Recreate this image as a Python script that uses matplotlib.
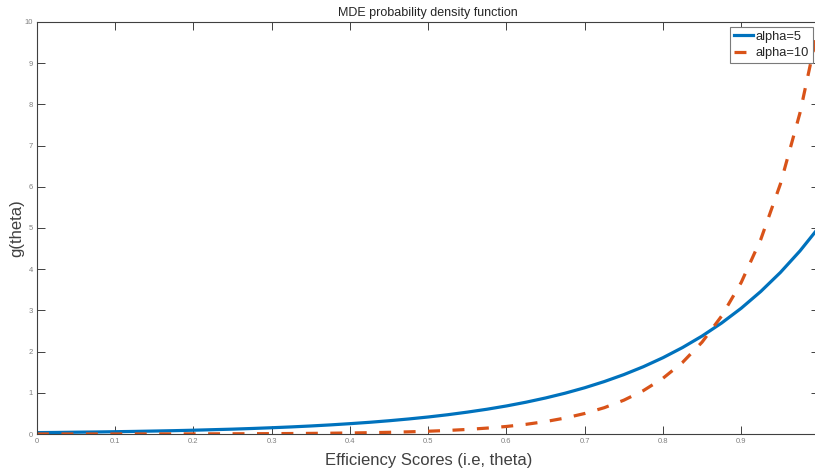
"""MDE probability density function for two alpha values."""

import matplotlib

matplotlib.use("Agg")
import matplotlib.pyplot as plt

# theta grid and density values
theta = [0.0, 0.025, 0.05, 0.075, 0.1, 0.125, 0.15, 0.175, 0.2, 0.225,
         0.25, 0.275, 0.3, 0.325, 0.35, 0.375, 0.4, 0.425, 0.45, 0.475,
         0.5, 0.525, 0.55, 0.575, 0.6, 0.625, 0.65, 0.675, 0.7, 0.725,
         0.75, 0.775, 0.8, 0.825, 0.85, 0.875, 0.9, 0.925, 0.95, 0.975, 1.0]

g_alpha5 = [0.034, 0.038, 0.044, 0.049, 0.056, 0.063, 0.072, 0.081, 0.092, 0.105,
            0.118, 0.134, 0.152, 0.172, 0.195, 0.221, 0.251, 0.284, 0.322, 0.365,
            0.413, 0.468, 0.531, 0.601, 0.681, 0.772, 0.875, 0.991, 1.123, 1.273,
            1.442, 1.634, 1.852, 2.099, 2.378, 2.695, 3.053, 3.460, 3.920, 4.442, 5.034]

g_alpha10 = [0.0005, 0.0006, 0.0008, 0.001, 0.0012, 0.0016, 0.002, 0.0026, 0.0034, 0.0043,
             0.0055, 0.0071, 0.0091, 0.0117, 0.015, 0.0193, 0.0248, 0.0318, 0.0409, 0.0525,
             0.0674, 0.0865, 0.111, 0.143, 0.183, 0.235, 0.302, 0.388, 0.498, 0.639,
             0.821, 1.054, 1.353, 1.738, 2.231, 2.865, 3.679, 4.724, 6.065, 7.788, 10.0]

labels = ["alpha=5", "alpha=10"]
x_ticks = [0.0, 0.1, 0.2, 0.3, 0.4, 0.5, 0.6, 0.7, 0.8, 0.9]
y_ticks = list(range(0, 11))

plt.rcParams["font.family"] = ["Liberation Sans", "DejaVu Sans"]
plt.rcParams["lines.scale_dashes"] = False

fig = plt.figure(figsize=(8.15, 4.72), dpi=100)
ax = fig.add_axes([0.0454, 0.0805, 0.9601, 0.8729])

ax.plot(theta, g_alpha5, color="#0072BD", linewidth=2.3, label=labels[0])
ax.plot(theta, g_alpha10, color="#D95319", linewidth=2.3, dashes=(8.6, 9.0),
        label=labels[1])

ax.set_xlim(0, 1)
ax.set_ylim(0, 10)
ax.set_xticks(x_ticks)
ax.set_xticklabels([f"{v:g}" for v in x_ticks])
ax.set_yticks(y_ticks)

ax.tick_params(direction="in", length=5.5, width=0.7, colors="#404040",
               labelcolor="#808080", labelsize=5.5, top=True, right=True, pad=3)
for s in ax.spines.values():
    s.set_color("#404040")
    s.set_linewidth(0.8)

ax.set_title("MDE probability density function", fontsize=9, color="#262626", pad=4)
ax.set_xlabel("Efficiency Scores (i.e, theta)", fontsize=12, color="#404040", labelpad=5.5)
ax.set_ylabel("g(theta)", fontsize=12, color="#404040", labelpad=0)

leg = ax.legend(loc="upper right", bbox_to_anchor=(0.9917, 0.9879), fontsize=9.3,
                frameon=True, fancybox=False, handlelength=1.45, handletextpad=0.25,
                borderpad=0.3, labelspacing=0.35, borderaxespad=0, framealpha=1)
leg.get_frame().set_edgecolor("#7a7a7a")
leg.get_frame().set_linewidth(0.8)
for t in leg.get_texts():
    t.set_color("#262626")

fig.savefig("out.png", dpi=100)
plt.close(fig)
